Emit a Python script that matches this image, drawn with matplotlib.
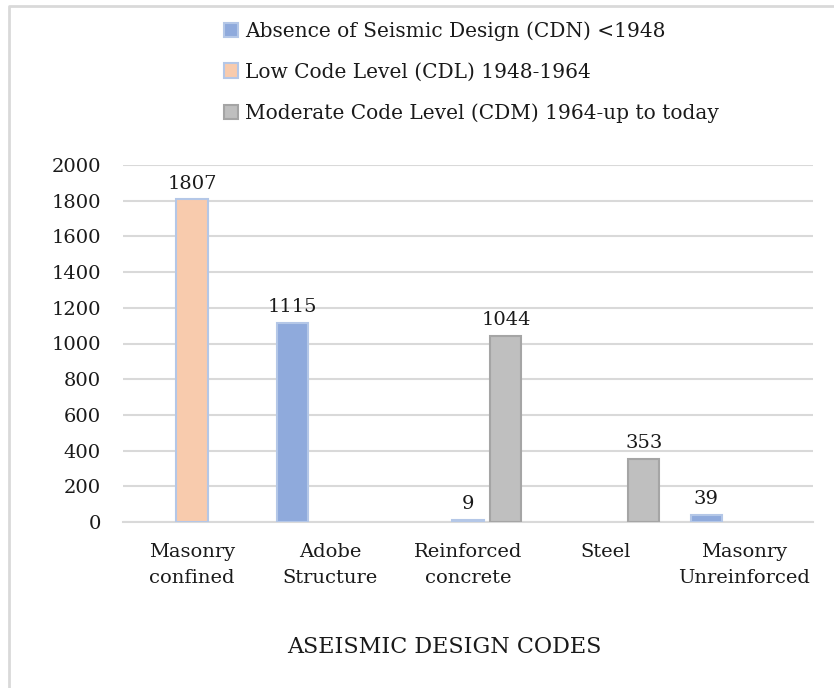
import matplotlib.pyplot as plt
import numpy as np
from matplotlib.lines import Line2D
from matplotlib.patches import Patch

categories = ["Masonry\nconfined", "Adobe\nStructure", "Reinforced\nconcrete", "Steel", "Masonry\nUnreinforced"]
series = ["Absence of Seismic Design (CDN) <1948",
          "Low Code Level (CDL) 1948-1964",
          "Moderate Code Level (CDM) 1964-up to today"]
cdn = [0, 1115, 0, 0, 39]
cdl = [1807, 0, 9, 0, 0]
cdm = [0, 0, 1044, 353, 0]

plt.rcParams['font.family'] = ['DejaVu Serif']

W, H = 834, 688
fig = plt.figure(figsize=(W / 100, H / 100), dpi=100)
ax = fig.add_axes([123 / W, 1 - 522 / H, 690 / W, 357 / H])

x = np.arange(len(categories))
bw = 0.225
off = 0.275
fills = ["#8FAADC", "#F8CBAD", "#BFBFBF"]
edges = ["#B4C7E7", "#B4C7E7", "#A5A5A5"]
handles = []
for i, vals in enumerate([cdn, cdl, cdm]):
    b = ax.bar(x + (i - 1) * off, vals, bw, color=fills[i], edgecolor=edges[i],
               linewidth=1.5, zorder=3)
    handles.append(Patch(facecolor=fills[i], edgecolor=edges[i], linewidth=1.5))
    for rect, v in zip(b, vals):
        if v == 0:
            rect.set_visible(False)
    for xi, v in zip(x + (i - 1) * off, vals):
        if v > 0:
            ax.annotate(str(v), (xi, v), xytext=(0, 5), textcoords="offset points",
                        ha="center", va="bottom", fontsize=14, color="#1a1a1a")

ax.set_xlim(-0.5, len(categories) - 0.5)
ax.set_ylim(0, 2000)
ax.set_yticks(range(0, 2001, 200))
ax.set_xticks(x)
ax.set_xticklabels(categories, linespacing=1.6)
ax.tick_params(axis="y", length=0, pad=16, labelsize=14, labelcolor="#1a1a1a")
ax.tick_params(axis="x", length=0, pad=15, labelsize=14, labelcolor="#1a1a1a")
ax.grid(axis="y", color="#D9D9D9", linewidth=1.5, zorder=0)
for s in ["top", "right", "left"]:
    ax.spines[s].set_visible(False)
ax.spines["bottom"].set_color("#D9D9D9")
ax.spines["bottom"].set_linewidth(1.5)

fig.text(444 / W, 1 - 647 / H, "ASEISMIC DESIGN CODES", ha="center", va="center",
         fontsize=16, color="#1a1a1a")

fig.legend(handles=handles, labels=series, loc="upper left",
           bbox_to_anchor=(206 / W, 1 - 3 / H), frameon=False, fontsize=14.5,
           handlelength=0.7, handleheight=0.7, handletextpad=0.35, labelspacing=1.08,
           labelcolor="#1a1a1a")

# chart border (top and left only visible)
fig.add_artist(Line2D([9 / W, 9 / W, 1], [0, 1 - 6 / H, 1 - 6 / H],
                      color="#D9D9D9", linewidth=2, transform=fig.transFigure))

fig.savefig("out.png", dpi=100)
